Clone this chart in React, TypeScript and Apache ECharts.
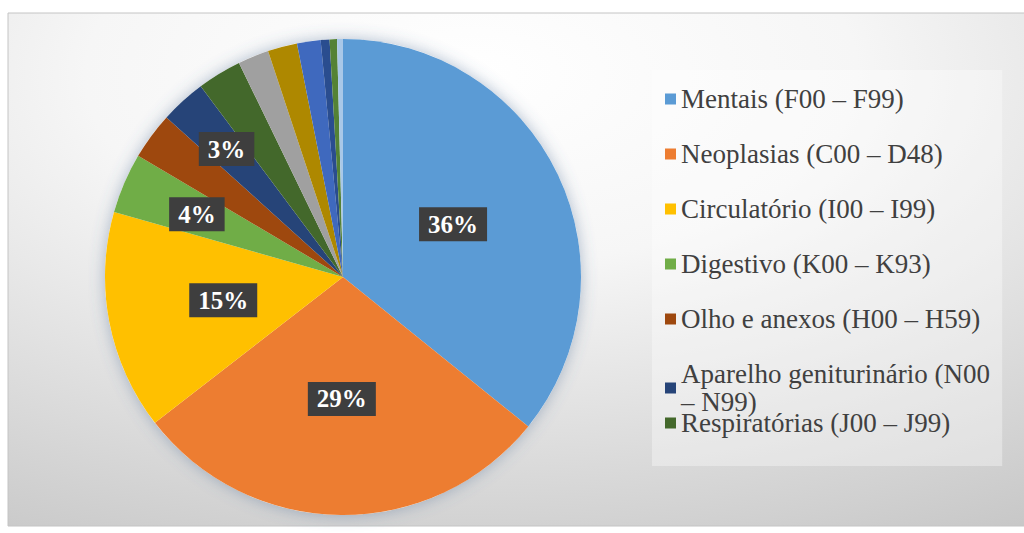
import React, { useEffect, useRef } from "react";
import * as echarts from "echarts";

const categories = [
  "Mentais (F00 – F99)",
  "Neoplasias (C00 – D48)",
  "Circulatório (I00 – I99)",
  "Digestivo (K00 – K93)",
  "Olho e anexos (H00 – H59)",
  "Aparelho geniturinário (N00 – N99)",
  "Respiratórias (J00 – J99)",
  "Outros 8",
  "Outros 9",
  "Outros 10",
  "Outros 11",
  "Outros 12",
  "Outros 13",
];
const values = [35.8, 28.7, 14.9, 4.1, 3.2, 3.1, 3.0, 2.1, 2.0, 1.6, 0.6, 0.5, 0.4];
const colors = [
  "#5B9BD5",
  "#ED7D31",
  "#FFC000",
  "#70AD47",
  "#9E480E",
  "#264478",
  "#43682B",
  "#A0A0A0",
  "#AE8800",
  "#3F69BE",
  "#2A4D8F",
  "#548235",
  "#A9C8E8",
];
const legendFirst = categories.slice(0, 6);
const legendLast = categories.slice(6, 7);
// which slices carry a percentage label, and which ring places it
const labelMain = [true, true, true, false, false, false, false, false, false, false, false, false, false];
const labelRingA = [false, false, false, true, false, false, false, false, false, false, false, false, false];
const labelRingB = [false, false, false, false, false, true, false, false, false, false, false, false, false];

const CENTER = [343, 277];
const R = 238;
const SERIF = "'Liberation Serif', 'Times New Roman', 'DejaVu Serif', serif";

function labelStyle() {
  return {
    position: "inside" as const,
    formatter: (p: any) => Math.round(p.percent) + "%",
    color: "#ffffff",
    fontFamily: SERIF,
    fontWeight: "bold" as const,
    fontSize: 25,
    lineHeight: 25,
    backgroundColor: "#3E3E3E",
    padding: [5, 9, 4, 9],
  };
}

function legendText() {
  return {
    fontFamily: SERIF,
    fontSize: 27,
    color: "#404040",
    lineHeight: 28,
  };
}

function buildData(show: boolean[], transparent: boolean) {
  return categories.map((name, i) => ({
    name,
    value: values[i],
    itemStyle: { color: transparent ? "rgba(0,0,0,0)" : colors[i] },
    label: { show: show[i] },
  }));
}

export default function App() {
  const ref = useRef<HTMLDivElement>(null);
  useEffect(() => {
    if (!ref.current) return;
    const chart = echarts.init(ref.current, undefined, { renderer: "svg" });
    chart.setOption({
      animation: false,
      textStyle: { fontFamily: SERIF },
      graphic: [
        {
          type: "rect",
          z: -10,
          silent: true,
          shape: { x: 8, y: 13, width: 1030, height: 513 },
          style: {
            fill: {
              type: "radial",
              x: 0.45,
              y: 0.12,
              r: 1.25,
              colorStops: [
                { offset: 0, color: "#ffffff" },
                { offset: 0.3, color: "#f6f6f6" },
                { offset: 1, color: "#b8b8b8" },
              ],
            },
            stroke: "#c4c4c4",
            lineWidth: 1,
          },
        },
      ],
      legend: [
        {
          orient: "vertical",
          left: 652,
          top: 70,
          padding: [15, 6, 0, 13],
          data: legendFirst,
          icon: "rect",
          itemWidth: 11,
          itemHeight: 11,
          itemGap: 27,
          selectedMode: false,
          z: 6,
          formatter: (name: string) => name.replace("(N00 – N99)", "(N00\n– N99)"),
          textStyle: legendText(),
        },
        {
          orient: "vertical",
          left: 652,
          top: 70,
          padding: [339, 52, 29, 13],
          backgroundColor: "rgba(255,255,255,0.35)",
          data: legendLast,
          icon: "rect",
          itemWidth: 11,
          itemHeight: 11,
          selectedMode: false,
          z: 4,
          textStyle: legendText(),
        },
      ],
      series: [
        {
          type: "pie",
          name: "sombra",
          center: CENTER,
          radius: R,
          silent: true,
          label: { show: false },
          labelLine: { show: false },
          itemStyle: {
            color: "#ffffff",
            shadowBlur: 16,
            shadowColor: "rgba(80,110,150,0.45)",
          },
          data: [{ name: "__sombra", value: 1 }],
        },
        {
          type: "pie",
          name: "principal",
          center: CENTER,
          radius: R,
          startAngle: 90,
          avoidLabelOverlap: false,
          label: labelStyle(),
          labelLine: { show: false },
          emphasis: { disabled: true },
          data: buildData(labelMain, false),
        },
        {
          type: "pie",
          name: "rotulosA",
          center: CENTER,
          radius: [74, R],
          startAngle: 90,
          silent: true,
          avoidLabelOverlap: false,
          label: labelStyle(),
          labelLine: { show: false },
          emphasis: { disabled: true },
          data: buildData(labelRingA, true),
        },
        {
          type: "pie",
          name: "rotulosB",
          center: CENTER,
          radius: [102, R],
          startAngle: 90,
          silent: true,
          avoidLabelOverlap: false,
          label: labelStyle(),
          labelLine: { show: false },
          emphasis: { disabled: true },
          data: buildData(labelRingB, true),
        },
      ],
    });
    return () => chart.dispose();
  }, []);
  return (
    <div style={{ position: "fixed", left: 0, top: 0, width: 1024, height: 533, background: "#ffffff" }}>
      <div ref={ref} style={{ width: 1024, height: 533 }} />
    </div>
  );
}
